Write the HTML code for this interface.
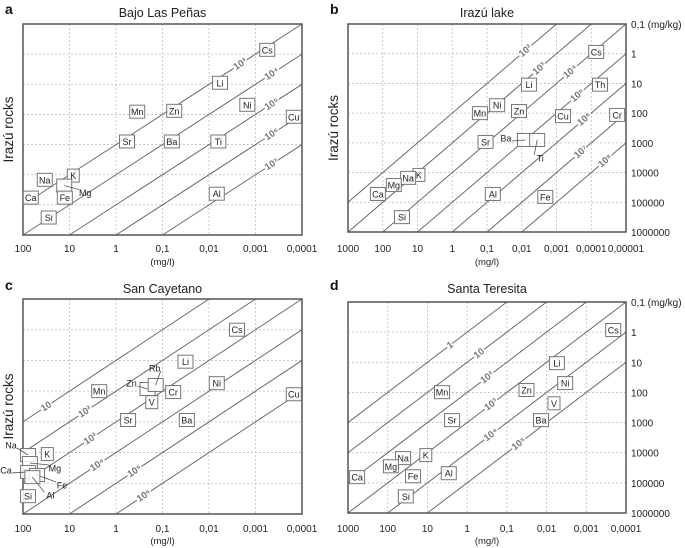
<!DOCTYPE html>
<html><head><meta charset="utf-8"><style>
html,body{margin:0;padding:0;background:#fff;width:685px;height:548px;overflow:hidden;}
svg{display:block;font-family:"Liberation Sans",Arial,sans-serif;overflow:hidden;}
</style></head><body>
<svg id="chart" width="685" height="548" viewBox="0 0 685 548" xmlns="http://www.w3.org/2000/svg"></svg>
<script>
// ---- Panel a: Bajo Las Peñas ----
const aNames=["Cs","Li","Mn","Zn","Ni","Cu","Sr","Ba","Ti","Na","K","Mg","Fe","Ca","Si","Al"];
const aWater=[0.00056,0.0058,0.35,0.056,0.0015,0.00015,0.58,0.063,0.0063,34,8.3,13,12.6,68,28,0.0068];
const aRock=[0.72,8.9,81,76,48,120,790,790,790,14800,10700,23000,57500,57500,263000,42700];
const aRatios=[3,4,5,6,7];
const aRatioLabels=["10³","10⁴","10⁵","10⁶","10⁷"];
const aXTicks=["100","10","1","0,1","0,01","0,001","0,0001"];
// ---- Panel b: Irazú lake ----
const bNames=["Cs","Li","Th","Ni","Mn","Zn","Cu","Cr","Sr","Ba","Ti","K","Na","Mg","Ca","Al","Fe","Si"];
const bWater=[0.000072,0.0062,0.000056,0.051,0.16,0.012,0.00065,0.000018,0.11,0.0081,0.0036,9.1,18.6,48,138,0.068,0.0021,28];
const bRock=[0.87,11,11,54,100,85,126,115,930,800,800,12000,15100,26300,52500,52500,66000,316000];
const bRatios=[2,3,4,5,6,7,8];
const bRatioLabels=["10²","10³","10⁴","10⁵","10⁶","10⁷","10⁸"];
const bXTicks=["1000","100","10","1","0,1","0,01","0,001","0,0001","0,00001"];
// ---- Panel c: San Cayetano ----
const cNames=["Cs","Li","Mn","Zn","Rb","V","Cr","Ni","Cu","Sr","Ba","K","Na","Mg","Ca","Fe","Al","Si"];
const cWater=[0.0025,0.032,2.3,0.21,0.14,0.17,0.059,0.0068,0.00015,0.55,0.03,30,78,71,78,50,63,78];
const cRock=[1.0,11,100,85,63,229,107,55,126,870,870,11200,12000,21900,42700,53700,63100,263000];
const cRatios=[1,2,3,4,5,6];
const cRatioLabels=["10","10²","10³","10⁴","10⁵","10⁶"];
const cXTicks=["100","10","1","0,1","0,01","0,001","0,0001"];
// ---- Panel d: Santa Teresita ----
const dNames=["Cs","Li","Ni","Mn","Zn","V","Ba","Sr","K","Na","Mg","Ca","Fe","Al","Si"];
const dWater=[0.00021,0.0055,0.0034,4.3,0.032,0.0065,0.0138,2.4,11,41,83,590,23,2.9,35];
const dRock=[0.85,10.7,49,98,83,229,830,830,12000,15100,28200,64600,60300,47900,282000];
const dRatios=[0,1,2,3,4,5];
const dRatioLabels=["1","10","10²","10³","10⁴","10⁵"];
const dXTicks=["1000","100","10","1","0,1","0,01","0,001","0,0001"];
const yTicks=["0,1 (mg/kg)","1","10","100","1000","10000","100000","1000000"];

const NS="http://www.w3.org/2000/svg";
const svg=document.getElementById('chart');
function mk(tag,attrs,parent){const e=document.createElementNS(NS,tag);for(const k in attrs)e.setAttribute(k,attrs[k]);(parent||svg).appendChild(e);return e;}

const panels=[
 {id:"a",title:"Bajo Las Peñas",x0:23,x1:302,y0:24,y1:235,logLeft:2,names:aNames,water:aWater,rock:aRock,ratios:aRatios,rl:aRatioLabels,xt:aXTicks,
  lblU:[4.67,5.35,5.35,5.35,5.35],letterY:14,titleY:17,tickY:252,unitY:265,right:false,ytitle:true,
  offs:{Mg:[21,7]}},
 {id:"b",title:"Irazú lake",x0:348,x1:626,y0:24,y1:232,logLeft:3,names:bNames,water:bWater,rock:bRock,ratios:bRatios,rl:bRatioLabels,xt:bXTicks,
  lblU:[5.1,5.5,6.4,6.6,6.8,6.7,7.4],letterY:14,titleY:17,tickY:252,unitY:265,right:true,ytitle:true,
  offs:{Ba:[-19,-2],Ti:[3,18]}},
 {id:"c",title:"San Cayetano",x0:23,x1:302,y0:299,y1:514,logLeft:2,names:cNames,water:cWater,rock:cRock,ratios:cRatios,rl:cRatioLabels,xt:cXTicks,
  lblU:[0.5,1.33,1.45,1.6,2.4,2.6],letterY:290,titleY:293,tickY:532,unitY:544,right:false,ytitle:true,
  offs:{Zn:[-16,-6],Rb:[-1,-17],Na:[-17,-10],Mg:[25,5],Ca:[-22,-2],Fe:[25,10],Al:[18,18]}},
 {id:"d",title:"Santa Teresita",x0:348,x1:626,y0:302,y1:513,logLeft:3,names:dNames,water:dWater,rock:dRock,ratios:dRatios,rl:dRatioLabels,xt:dXTicks,
  lblU:[2.57,3.3,3.5,3.6,3.6,4.3],letterY:290,titleY:293,tickY:532,unitY:544,right:true,ytitle:false,
  offs:{}}
];

panels.forEach(p=>{
  const nDec=p.xt.length-1;
  const dx=(p.x1-p.x0)/nDec, dy=(p.y1-p.y0)/7;
  const X=c=>p.x0+(p.logLeft-Math.log10(c))*dx;
  const Y=r=>p.y0+(Math.log10(r)+1)*dy;
  const g=mk('g',{});
  
  
  const lt=mk('text',{x:p.x0-18,y:p.letterY,'font-size':14,'font-weight':'bold',fill:'#111'},g);
  lt.textContent=p.id;
  
  
  const tt=mk('text',{x:(p.x0+p.x1)/2,y:p.titleY,'font-size':12.5,'text-anchor':'middle',fill:'#222'},g);
  tt.textContent=p.title;
  
  
  for(let i=1;i<nDec;i++){
    const gx=p.x0+i*dx;
    const l=mk('line',{x1:gx,x2:gx,y1:p.y0,y2:p.y1,stroke:'#bdbdbd','stroke-width':0.8,'stroke-dasharray':'2,2'},g);
    
    
  }
  for(let i=1;i<7;i++){
    const gy=p.y0+i*dy;
    const l=mk('line',{x1:p.x0,x2:p.x1,y1:gy,y2:gy,stroke:'#bdbdbd','stroke-width':0.8,'stroke-dasharray':'2,2'},g);
    
    
  }
  p.ratios.forEach((k,i)=>{
    const Lmin=Math.max(p.logLeft-nDec,-1-k), Lmax=Math.min(p.logLeft,6-k);
    if(Lmin>=Lmax) return;
    const cA=Math.pow(10,Lmax), cB=Math.pow(10,Lmin);
    const l=mk('line',{x1:X(cA),y1:Y(cA*Math.pow(10,k)),x2:X(cB),y2:Y(cB*Math.pow(10,k)),stroke:'#6a6a6a','stroke-width':1},g);
    
    
  });
  const ang=-Math.atan(dy/dx)*180/Math.PI;
  p.ratios.forEach((k,i)=>{
    const c=Math.pow(10,p.logLeft-p.lblU[i]);
    const px=X(c), py=Y(c*Math.pow(10,k));
    const t=mk('text',{x:px,y:py+3,'font-size':9.5,'font-weight':'bold','text-anchor':'middle',fill:'#777',stroke:'#fff','stroke-width':3,'paint-order':'stroke',transform:`rotate(${ang} ${px} ${py})`},g);
    t.textContent=p.rl[i];
    
    
  });
  const fr=mk('rect',{x:p.x0,y:p.y0,width:p.x1-p.x0,height:p.y1-p.y0,fill:'none',stroke:'#555','stroke-width':1.5},g);
  
  
  p.xt.forEach((s,i)=>{
    const t=mk('text',{x:p.x0+i*dx,y:p.tickY,'font-size':10,'text-anchor':'middle',fill:'#222'},g);
    t.textContent=s;
    
    
  });
  const u=mk('text',{x:(p.x0+p.x1)/2,y:p.unitY,'font-size':9.5,'text-anchor':'middle',fill:'#222'},g);
  u.textContent='(mg/l)';
  
  
  if(p.right){
    yTicks.forEach((s,i)=>{
      const t=mk('text',{x:p.x1+5,y:p.y0+i*dy+4,'font-size':10,fill:'#222'},g);
      t.textContent=s;
      
      
    });
  }
  if(p.ytitle){
    const cx=p.x0-10, cy=(p.y0+p.y1)/2;
    const t=mk('text',{x:cx,y:cy,'font-size':13.5,'text-anchor':'middle',fill:'#222',transform:`rotate(-90 ${cx} ${cy})`},g);
    t.textContent='Irazú rocks';
    
    
  }
  p.names.forEach((n,i)=>{
    const px=X(p.water[i]), py=Y(p.rock[i]);
    const w=n.length>1?15:12, h=13;
    const eg=mk('g',{},g);
    
    
    mk('rect',{x:px-w/2,y:py-h/2,width:w,height:h,fill:'#fff','fill-opacity':0.85,stroke:'#777','stroke-width':1},eg);
    const off=p.offs[n];
    if(off){
      const tx=px+off[0], ty=py+off[1];
      mk('line',{x1:px,y1:py,x2:tx-Math.sign(off[0])*6,y2:ty-Math.sign(off[1])*3,stroke:'#555','stroke-width':0.8},eg);
      const t=mk('text',{x:tx,y:ty+3.5,'font-size':9,'text-anchor':'middle',fill:'#222'},eg);
      t.textContent=n;
    } else {
      const t=mk('text',{x:px,y:py+3.5,'font-size':9,'text-anchor':'middle',fill:'#222'},eg);
      t.textContent=n;
    }
  });
});
</script>
</body></html>
